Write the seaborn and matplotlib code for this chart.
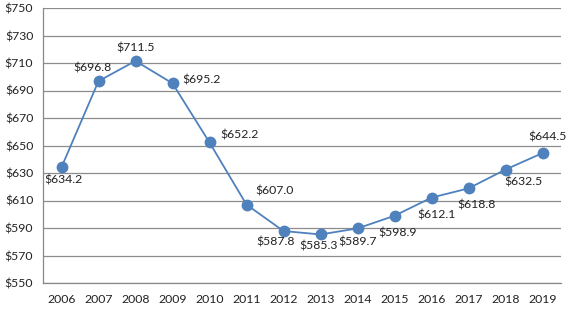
import matplotlib
matplotlib.use("Agg")
import matplotlib.pyplot as plt
import seaborn as sns
import pandas as pd
import numpy as np

years = [2006, 2007, 2008, 2009, 2010, 2011, 2012, 2013, 2014, 2015, 2016, 2017, 2018, 2019]
values = [634.2, 696.8, 711.5, 695.2, 652.2, 607.0, 587.8, 585.3, 589.7, 598.9, 612.1, 618.8, 632.5, 644.5]
y_ticks = [550, 570, 590, 610, 630, 650, 670, 690, 710, 730, 750]

sns.set_theme(style="white")
plt.rcParams['font.family'] = ['Lato', 'DejaVu Sans']

df = pd.DataFrame({"year": years, "value": values})

fig = plt.figure(figsize=(5.76, 3.24), dpi=100)
ax = fig.add_axes([43/576, 1-283/324, (561-43)/576, (283-8)/324])

color = "#4F81BD"
sns.lineplot(data=df, x="year", y="value", ax=ax, color=color, linewidth=1.3,
             marker="o", markersize=8.5, markeredgewidth=0, zorder=3)

ax.set_xlim(years[0]-0.5, years[-1]+0.5)
ax.set_ylim(y_ticks[0], y_ticks[-1])
ax.set_yticks(y_ticks)
ax.set_yticklabels([f"${v}" for v in y_ticks], fontsize=8.8, color="#222222")
ax.set_xticks(years)
ax.set_xticklabels([str(y) for y in years], fontsize=8.8, color="#222222")
ax.set_xticks(np.arange(years[0]-0.5, years[-1]+1, 1.0), minor=True)
ax.tick_params(axis='x', which='major', length=0, pad=8)
ax.tick_params(axis='x', which='minor', length=4, color="#888888", width=0.8, direction='out')
ax.tick_params(axis='y', which='major', length=4, color="#888888", width=0.8, direction='out', pad=3)
ax.set_xlabel("")
ax.set_ylabel("")
ax.grid(axis='y', color="#8C8C8C", linewidth=0.9)
ax.grid(axis='x', visible=False)
for s in ['top', 'right']:
    ax.spines[s].set_visible(False)
for s in ['left', 'bottom']:
    ax.spines[s].set_color("#888888")
    ax.spines[s].set_linewidth(0.9)

offsets = [(2, -13), (-6, 13), (0, 13), (29, 3), (30, 7), (28, 14), (-8, -11),
           (-2, -12), (0, -14), (3, -17), (5, -17), (8, -17), (18, -12), (5, 16)]
for x, y, (dx, dy) in zip(years, values, offsets):
    ax.annotate(f"${y:.1f}", (x, y), xytext=(dx, dy), textcoords='offset pixels',
                ha='center', va='center', fontsize=8.8, color="#222222")

fig.savefig("out.png", dpi=100)
